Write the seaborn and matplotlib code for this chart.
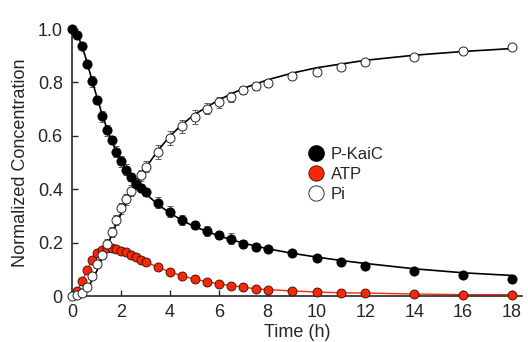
import numpy as np
import pandas as pd
import matplotlib
matplotlib.use("Agg")
import matplotlib.pyplot as plt
from matplotlib.lines import Line2D
import seaborn as sns

# measured time points (h)
t_kaic = [0, 0.2, 0.4, 0.6, 0.8, 1.0, 1.2, 1.4, 1.6, 1.8, 2.0, 2.2, 2.4, 2.6, 2.8, 3.0,
          3.5, 4.0, 4.5, 5.0, 5.5, 6.0, 6.5, 7.0, 7.5, 8.0, 9, 10, 11, 12, 14, 16, 18]
kaic = [1.0, 0.979, 0.935, 0.871, 0.804, 0.733, 0.673, 0.621, 0.583, 0.541, 0.504, 0.473,
        0.445, 0.420, 0.404, 0.388, 0.350, 0.316, 0.285, 0.266, 0.244, 0.228, 0.215, 0.195,
        0.185, 0.175, 0.160, 0.144, 0.128, 0.114, 0.095, 0.078, 0.065]
kaic_err = [0, 0, 0.01, 0.01, 0.02, 0.015, 0.02, 0.02, 0.015, 0.02, 0.02, 0.02, 0.015, 0.02,
            0.015, 0.015, 0.02, 0.02, 0.02, 0.015, 0.02, 0.015, 0.02, 0.015, 0.015, 0.012,
            0.01, 0.008, 0.008, 0.006, 0.005, 0.005, 0.005]

t_pi = t_kaic
pi = [0.0, 0.002, 0.010, 0.035, 0.075, 0.120, 0.155, 0.195, 0.240, 0.285, 0.328, 0.362,
      0.395, 0.422, 0.452, 0.484, 0.540, 0.592, 0.635, 0.670, 0.702, 0.725, 0.745, 0.770,
      0.785, 0.798, 0.823, 0.839, 0.858, 0.875, 0.896, 0.917, 0.931]
pi_err = [0, 0, 0, 0.01, 0.01, 0.015, 0.015, 0.02, 0.02, 0.02, 0.02, 0.02, 0.02, 0.02, 0.02,
          0.02, 0.025, 0.025, 0.025, 0.025, 0.02, 0.02, 0.02, 0.015, 0.015, 0.01, 0.01,
          0.008, 0.006, 0.005, 0.005, 0.005, 0.005]

t_atp = [0.2, 0.4, 0.6, 0.8, 1.0, 1.2, 1.4, 1.6, 1.8, 2.0, 2.2, 2.4, 2.6, 2.8, 3.0,
         3.5, 4.0, 4.5, 5.0, 5.5, 6.0, 6.5, 7.0, 7.5, 8.0, 9, 10, 11, 12, 14, 16, 18]
atp = [0.020, 0.057, 0.098, 0.133, 0.160, 0.173, 0.178, 0.178, 0.175, 0.170, 0.163, 0.155,
       0.145, 0.135, 0.128, 0.108, 0.090, 0.075, 0.063, 0.054, 0.045, 0.039, 0.033, 0.027,
       0.024, 0.019, 0.015, 0.012, 0.011, 0.0075, 0.005, 0.005]

# fitted curves
t_fit_kaic = [0, 0.25, 0.5, 0.75, 1.0, 1.25, 1.5, 1.75, 2.0, 2.25, 2.5, 2.75, 3.0, 3.5, 4.0,
              4.5, 5.0, 6.0, 7.0, 8.0, 9.0, 10.0, 11.0, 12.0, 14.0, 16.0, 18.0]
fit_kaic = [1.0, 0.97, 0.905, 0.825, 0.745, 0.67, 0.605, 0.55, 0.505, 0.467, 0.435, 0.407,
            0.383, 0.343, 0.31, 0.283, 0.26, 0.225, 0.198, 0.177, 0.16, 0.146, 0.133, 0.122,
            0.102, 0.087, 0.077]
t_fit_pi = [0, 0.25, 0.5, 0.75, 1.0, 1.25, 1.5, 1.75, 2.0, 2.25, 2.5, 2.75, 3.0, 3.5, 4.0,
            4.5, 5.0, 6.0, 7.0, 8.0, 9.0, 10.0, 12.0, 14.0, 16.0, 18.0]
fit_pi = [0.0, 0.005, 0.02, 0.05, 0.095, 0.15, 0.205, 0.26, 0.31, 0.36, 0.405, 0.445, 0.48,
          0.545, 0.60, 0.643, 0.68, 0.735, 0.778, 0.81, 0.835, 0.855, 0.883, 0.902, 0.916,
          0.927]

sns.set_style("ticks")
plt.rcParams["font.family"] = ["Liberation Sans", "DejaVu Sans"]

fig = plt.figure(figsize=(5.28, 3.42), dpi=100)
ax = fig.add_axes([0.1373, 0.1345, 0.8504, 0.7805])

red = "#f5290a"

sns.lineplot(x=t_fit_kaic, y=fit_kaic, ax=ax, color="black", lw=1.2, zorder=2)
sns.lineplot(x=t_fit_pi, y=fit_pi, ax=ax, color="black", lw=1.2, zorder=2)
sns.lineplot(x=t_atp, y=atp, ax=ax, color=red, lw=1.0, zorder=2)

ax.errorbar(t_kaic, kaic, yerr=kaic_err, fmt="none", ecolor="#444444", elinewidth=0.6,
            capsize=2.5, capthick=0.6, zorder=1)
ax.errorbar(t_pi, pi, yerr=pi_err, fmt="none", ecolor="#444444", elinewidth=0.6,
            capsize=2.5, capthick=0.6, zorder=1)

sns.scatterplot(x=t_atp, y=atp, ax=ax, color=red, edgecolor="#3a0a00", linewidth=0.6,
                s=42, zorder=3, clip_on=False)
sns.scatterplot(x=t_pi, y=pi, ax=ax, color="white", edgecolor="#222222", linewidth=0.7,
                s=42, zorder=4, clip_on=False)
sns.scatterplot(x=t_kaic, y=kaic, ax=ax, color="black", edgecolor="black", linewidth=0.6,
                s=44, zorder=5, clip_on=False)

ax.set_xlim(0, 18.4)
ax.set_ylim(0, 1.0)
ax.set_xticks(range(0, 19, 2))
ax.set_yticks([0, 0.2, 0.4, 0.6, 0.8, 1.0])
ax.set_yticklabels(["0", "0.2", "0.4", "0.6", "0.8", "1.0"])
ax.tick_params(direction="in", length=4, width=1, labelsize=13)
ax.tick_params(axis="x", pad=6)
ax.tick_params(axis="y", pad=7)
for s in ["left", "bottom"]:
    ax.spines[s].set_linewidth(1.2)
sns.despine(ax=ax)

ax.set_xlabel("Time (h)", fontsize=13, labelpad=2)
ax.set_ylabel("Normalized Concentration", fontsize=13, labelpad=6)

handles = [
    Line2D([], [], ls="none", marker="o", ms=11, mfc="black", mec="black"),
    Line2D([], [], ls="none", marker="o", ms=11, mfc=red, mec="#3a0a00", mew=0.6),
    Line2D([], [], ls="none", marker="o", ms=11, mfc="white", mec="#333333", mew=0.7),
]
ax.legend(handles, ["P-KaiC", "ATP", "Pi"], loc="upper left", bbox_to_anchor=(0.505, 0.585),
          frameon=False, fontsize=12, handletextpad=0.3, labelspacing=0.3,
          borderaxespad=0, handlelength=1.2)

fig.savefig("out.png", dpi=100)
